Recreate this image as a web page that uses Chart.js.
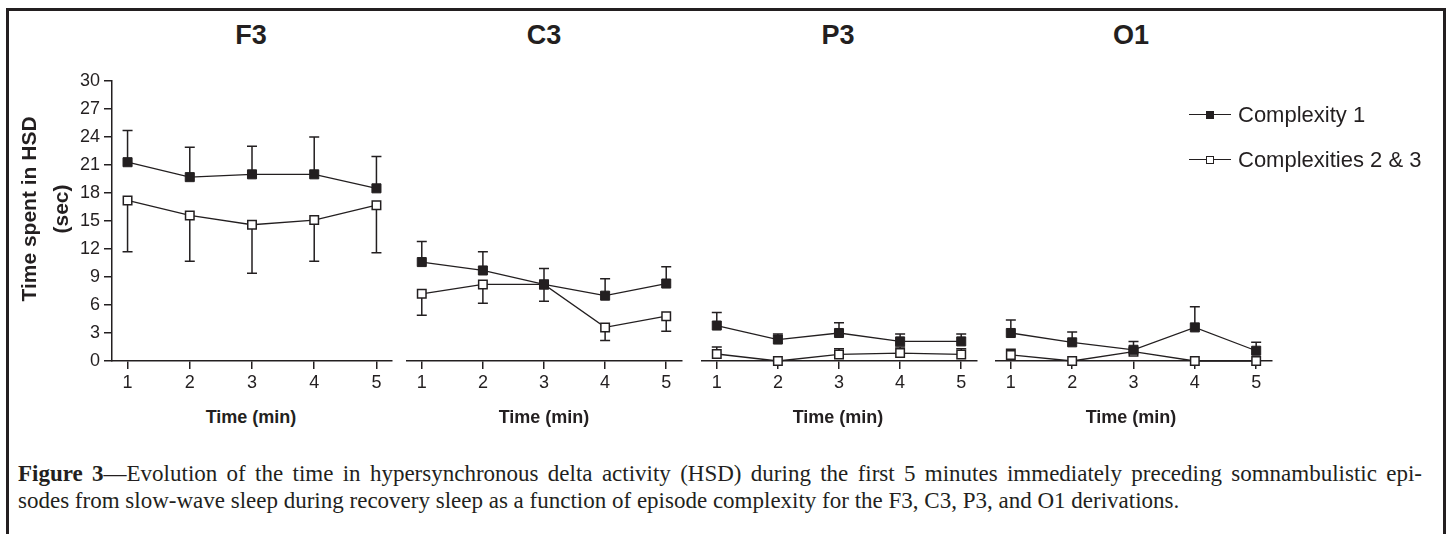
<!DOCTYPE html>
<html lang="en">
<head>
<meta charset="UTF-8">
<title>HSD by episode complexity</title>
<script src="https://cdn.jsdelivr.net/npm/chart.js"></script>
<style>
  body { margin: 0; background: #fff; }
  #page { position: relative; width: 1446px; height: 534px; overflow: hidden; font-family: "Liberation Sans", Arial, sans-serif; color: #231f20; }
  #frame { position: absolute; left: 6px; top: 8px; width: 1434px; height: 600px; border: 3px solid #231f20; }
  canvas { position: absolute; top: 50px; }
  .ptitle { position: absolute; top: 20px; width: 120px; margin-left: -60px; text-align: center; font-weight: bold; font-size: 27px; }
  .xtitle { position: absolute; top: 407px; width: 140px; margin-left: -70px; text-align: center; font-weight: bold; font-size: 18px; }
  .legend { position: absolute; left: 1189px; font-size: 22px; line-height: 26px; }
  .legend .mk { display: inline-block; position: relative; width: 42px; height: 26px; vertical-align: top; margin-right: 7px; }
  .legend .mk::before { content: ""; position: absolute; left: 0; right: 0; top: 12px; border-top: 1.5px solid #231f20; }
  .legend .mk i { position: absolute; left: 17px; top: 9px; width: 8px; height: 8px; box-sizing: border-box; border: 1.5px solid #231f20; }
  .caption { position: absolute; left: 18px; width: 1404px; font-family: "Liberation Serif", "Times New Roman", serif; font-size: 23px; line-height: 27px; }
</style>
</head>
<body>
<div id="page">
  <div id="frame"></div>

  <div class="ptitle" style="left:251px">F3</div>
  <div class="ptitle" style="left:544px">C3</div>
  <div class="ptitle" style="left:838px">P3</div>
  <div class="ptitle" style="left:1131px">O1</div>

  <canvas id="panel0"></canvas>
  <canvas id="panel1"></canvas>
  <canvas id="panel2"></canvas>
  <canvas id="panel3"></canvas>

  <div class="xtitle" style="left:251px">Time (min)</div>
  <div class="xtitle" style="left:544px">Time (min)</div>
  <div class="xtitle" style="left:838px">Time (min)</div>
  <div class="xtitle" style="left:1131px">Time (min)</div>

  <div class="legend" style="top:102px"><span class="mk"><i style="background:#231f20"></i></span>Complexity 1</div>
  <div class="legend" style="top:147px"><span class="mk"><i style="background:#fff"></i></span>Complexities 2 &amp; 3</div>

  <div class="caption" style="top:460px; text-align:justify; text-align-last:justify"><b>Figure 3</b>—Evolution of the time in hypersynchronous delta activity (HSD) during the first 5 minutes immediately preceding somnambulistic epi-</div>
  <div class="caption" style="top:487px">sodes from slow-wave sleep during recovery sleep as a function of episode complexity for the F3, C3, P3, and O1 derivations.</div>
</div>

<script>
// values (mean and error bar length, sec)
const minutes = [1, 2, 3, 4, 5];
const yTicksMax = 30;

const f3Complexity1 = [21.3, 19.7, 20.0, 20.0, 18.5];
const f3Complexity1Err = [3.4, 3.2, 3.0, 4.0, 3.4];
const f3Complexity23 = [17.2, 15.6, 14.6, 15.1, 16.7];
const f3Complexity23Err = [5.5, 4.9, 5.2, 4.4, 5.1];

const c3Complexity1 = [10.6, 9.7, 8.2, 7.0, 8.3];
const c3Complexity1Err = [2.2, 2.0, 1.7, 1.8, 1.8];
const c3Complexity23 = [7.2, 8.2, 8.2, 3.6, 4.8];
const c3Complexity23Err = [2.3, 2.0, 1.8, 1.4, 1.6];

const p3Complexity1 = [3.8, 2.3, 3.0, 2.1, 2.1];
const p3Complexity1Err = [1.4, 0.6, 1.1, 0.8, 0.8];
const p3Complexity23 = [0.75, 0, 0.7, 0.85, 0.7];
const p3Complexity23Err = [0.75, 0, 0.6, 0.65, 0.6];

const o1Complexity1 = [3.0, 2.0, 1.2, 3.6, 1.1];
const o1Complexity1Err = [1.4, 1.1, 0.9, 2.2, 0.9];
const o1Complexity23 = [0.65, 0, 1.0, 0, 0];
const o1Complexity23Err = [0.6, 0, 0, 0, 0];

const panels = [
  { c1: f3Complexity1, c1Err: f3Complexity1Err, c23: f3Complexity23, c23Err: f3Complexity23Err, openDir: -1 },
  { c1: c3Complexity1, c1Err: c3Complexity1Err, c23: c3Complexity23, c23Err: c3Complexity23Err, openDir: -1 },
  { c1: p3Complexity1, c1Err: p3Complexity1Err, c23: p3Complexity23, c23Err: p3Complexity23Err, openDir: 1 },
  { c1: o1Complexity1, c1Err: o1Complexity1Err, c23: o1Complexity23, c23Err: o1Complexity23Err, openDir: 1 }
];

// plot area edges in page pixels
const areaLeft = [112, 403, 698, 992];
const areaRight = [392, 683, 978, 1273];

const ink = '#231f20';

// one-sided error bars (filled up, open down or up)
const errorBars = {
  id: 'errorBars',
  beforeDatasetsDraw(chart) {
    const { ctx, scales: { x, y } } = chart;
    ctx.save();
    ctx.strokeStyle = ink;
    ctx.lineWidth = 1.5;
    chart.data.datasets.forEach(ds => {
      ds.data.forEach((p, j) => {
        const e = ds.err[j];
        if (!e) return;
        const px = x.getPixelForValue(p.x);
        const y0 = y.getPixelForValue(p.y);
        const y1 = y.getPixelForValue(p.y + ds.dir * e);
        ctx.beginPath();
        ctx.moveTo(px, y0);
        ctx.lineTo(px, y1);
        ctx.moveTo(px - 5, y1);
        ctx.lineTo(px + 5, y1);
        ctx.stroke();
      });
    });
    ctx.restore();
  }
};

// y axis title on the first panel
const yTitle = {
  id: 'yTitle',
  afterDraw(chart) {
    if (chart.canvas.id !== 'panel0') return;
    const ctx = chart.ctx;
    ctx.save();
    ctx.fillStyle = ink;
    ctx.font = 'bold 21px "Liberation Sans", Arial, sans-serif';
    ctx.textAlign = 'center';
    ctx.translate(0, 159);
    ctx.rotate(-Math.PI / 2);
    ctx.fillText('Time spent in HSD', 0, 36);
    ctx.fillText('(sec)', 0, 68);
    ctx.restore();
  }
};

panels.forEach((p, i) => {
  const canvas = document.getElementById('panel' + i);
  const first = i === 0;
  const left = first ? 0 : areaLeft[i] - 4;
  const width = first ? 400 : areaRight[i] - areaLeft[i] + 10;
  canvas.style.left = left + 'px';
  canvas.width = width;
  canvas.height = 351;

  new Chart(canvas, {
    type: 'line',
    data: {
      datasets: [
        {
          data: minutes.map((m, j) => ({ x: m, y: p.c1[j] })),
          err: p.c1Err, dir: 1,
          borderColor: ink, borderWidth: 1.3,
          pointStyle: 'rect', pointRadius: 6.4,
          pointBackgroundColor: ink, pointBorderColor: ink, pointBorderWidth: 1,
          clip: false
        },
        {
          data: minutes.map((m, j) => ({ x: m, y: p.c23[j] })),
          err: p.c23Err, dir: p.openDir,
          borderColor: ink, borderWidth: 1.3,
          pointStyle: 'rect', pointRadius: 6,
          pointBackgroundColor: '#fff', pointBorderColor: ink, pointBorderWidth: 1.5,
          clip: false
        }
      ]
    },
    options: {
      responsive: false,
      animation: false,
      layout: { padding: { top: 31, bottom: 0, left: first ? 0 : 4, right: first ? 8 : 6 } },
      plugins: { legend: { display: false }, tooltip: { enabled: false } },
      scales: {
        x: {
          type: 'linear', min: 0.75, max: 5.25,
          afterBuildTicks: s => { s.ticks = minutes.map(v => ({ value: v })); },
          afterFit: s => { s.height = 40; },
          grid: { drawOnChartArea: false, drawTicks: true, tickLength: 8, color: ink, lineWidth: 1.5 },
          border: { display: true, color: ink, width: 1.5 },
          ticks: { color: ink, padding: 3, font: { size: 18, family: '"Liberation Sans", Arial, sans-serif' } }
        },
        y: {
          display: first,
          min: 0, max: yTicksMax,
          afterFit: s => { if (first) s.width = 112; },
          grid: { drawOnChartArea: false, drawTicks: true, tickLength: 8, color: ink, lineWidth: 1.5 },
          border: { display: true, color: ink, width: 1.5 },
          ticks: { stepSize: 3, color: ink, padding: 4, font: { size: 18, family: '"Liberation Sans", Arial, sans-serif' } }
        }
      }
    },
    plugins: [errorBars, yTitle]
  });
});
</script>
</body>
</html>
